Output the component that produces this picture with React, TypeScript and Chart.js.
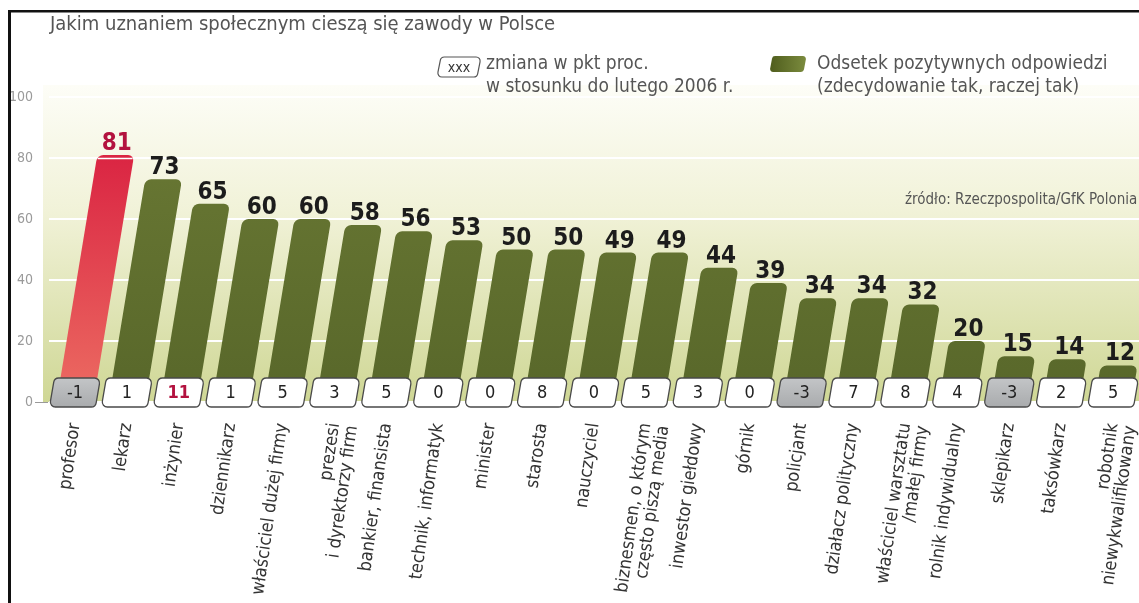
import React, { useEffect, useRef } from 'react';
import { Chart, registerables } from 'chart.js';

Chart.register(...registerables);

const categories: (string | string[])[] = [
  'profesor',
  'lekarz',
  'inżynier',
  'dziennikarz',
  'właściciel dużej firmy',
  ['prezesi', 'i dyrektorzy firm'],
  'bankier, finansista',
  'technik, informatyk',
  'minister',
  'starosta',
  'nauczyciel',
  ['biznesmen, o którym', 'często piszą media'],
  'inwestor giełdowy',
  'górnik',
  'policjant',
  'działacz polityczny',
  ['właściciel warsztatu', '/małej firmy'],
  'rolnik indywidualny',
  'sklepikarz',
  'taksówkarz',
  ['robotnik', 'niewykwalifikowany'],
];

const values: number[] = [81, 73, 65, 60, 60, 58, 56, 53, 50, 50, 49, 49, 44, 39, 34, 34, 32, 20, 15, 14, 12];

const changes: number[] = [-1, 1, 11, 1, 5, 3, 5, 0, 0, 8, 0, 5, 3, 0, -3, 7, 8, 4, -3, 2, 5];

const yTicks: number[] = [0, 20, 40, 60, 80, 100];

const TITLE = 'Jakim uznaniem społecznym cieszą się zawody w Polsce';
const LEGEND_CHANGE = ['zmiana w pkt proc.', 'w stosunku do lutego 2006 r.'];
const LEGEND_BARS = ['Odsetek pozytywnych odpowiedzi', '(zdecydowanie tak, raczej tak)'];
const SOURCE = 'źródło: Rzeczpospolita/GfK Polonia';

const HIGHLIGHT_BAR = 0;
const HIGHLIGHT_CHANGE = 2;

const NARROW = "'Liberation Sans Narrow', 'DejaVu Sans Condensed', 'Arial Narrow', sans-serif";
const SKEW = 0.165;

function slantPath(ctx: CanvasRenderingContext2D, pts: number[][], r: number) {
  const n = pts.length;
  ctx.beginPath();
  ctx.moveTo((pts[0][0] + pts[1][0]) / 2, (pts[0][1] + pts[1][1]) / 2);
  for (let k = 1; k <= n; k++) {
    const p = pts[k % n];
    const q = pts[(k + 1) % n];
    ctx.arcTo(p[0], p[1], q[0], q[1], r);
  }
  ctx.closePath();
}

function box(ctx: CanvasRenderingContext2D, cx: number, top: number, bottom: number, halfW: number, slant: number, r: number) {
  slantPath(
    ctx,
    [
      [cx - halfW + slant, top],
      [cx + halfW + slant, top],
      [cx + halfW - slant, bottom],
      [cx - halfW - slant, bottom],
    ],
    r
  );
}

const decorPlugin = {
  id: 'decor',
  beforeDraw(chart: any) {
    const { ctx, chartArea } = chart;
    ctx.save();
    ctx.fillStyle = '#ffffff';
    ctx.fillRect(0, 0, chart.width, chart.height);
    const top = chartArea.top - 12;
    const g = ctx.createLinearGradient(0, top, 0, chartArea.bottom);
    g.addColorStop(0, '#fdfdf7');
    g.addColorStop(0.4, '#f1f2d8');
    g.addColorStop(1, '#cfd795');
    ctx.fillStyle = g;
    ctx.fillRect(chartArea.left - 6, top, chartArea.right - chartArea.left + 6, chartArea.bottom - top);
    ctx.restore();
  },
  beforeDatasetsDraw(chart: any) {
    const { ctx, scales } = chart;
    const y0 = scales.y.getPixelForValue(0);
    ctx.save();
    ctx.transform(1, 0, -SKEW, 1, SKEW * y0, 0);
  },
  afterDatasetsDraw(chart: any) {
    const { ctx, scales } = chart;
    ctx.restore();
    const y0 = scales.y.getPixelForValue(0);
    const meta = chart.getDatasetMeta(0);

    // white cap line on highlighted bar
    const hb = meta.data[HIGHLIGHT_BAR];
    if (hb) {
      const yy = hb.y + 3.5;
      const sh = SKEW * (y0 - yy);
      ctx.save();
      ctx.strokeStyle = '#ffffff';
      ctx.lineWidth = 1.5;
      ctx.beginPath();
      ctx.moveTo(hb.x - hb.width / 2 + sh + 1, yy);
      ctx.lineTo(hb.x + hb.width / 2 + sh - 1, yy);
      ctx.stroke();
      ctx.restore();
    }

    // value labels
    ctx.save();
    ctx.textAlign = 'center';
    ctx.textBaseline = 'alphabetic';
    ctx.font = `bold 24px ${NARROW}`;
    meta.data.forEach((el: any, i: number) => {
      const sh = SKEW * (y0 - el.y);
      ctx.fillStyle = i === HIGHLIGHT_BAR ? '#b3123f' : '#1c1c1c';
      ctx.fillText(String(values[i]), el.x + sh + 1, el.y - 5);
    });
    ctx.restore();

    // change boxes
    ctx.save();
    const top = y0 - 24;
    const bottom = y0 + 5;
    categories.forEach((_, i) => {
      const cx = scales.x.getPixelForValue(i);
      box(ctx, cx, top, bottom, 23, 2.5, 5);
      const neg = changes[i] < 0;
      if (neg) {
        const g = ctx.createLinearGradient(0, top, 0, bottom);
        g.addColorStop(0, '#c3c5c7');
        g.addColorStop(1, '#a9abad');
        ctx.fillStyle = g;
      } else {
        ctx.fillStyle = '#ffffff';
      }
      ctx.fill();
      ctx.strokeStyle = '#4a4a4a';
      ctx.lineWidth = 1.3;
      ctx.stroke();
      ctx.textAlign = 'center';
      ctx.textBaseline = 'middle';
      if (i === HIGHLIGHT_CHANGE) {
        ctx.font = `bold 18px ${NARROW}`;
        ctx.fillStyle = '#b3123f';
      } else {
        ctx.font = `18px ${NARROW}`;
        ctx.fillStyle = '#222222';
      }
      ctx.fillText(String(changes[i]), cx, (top + bottom) / 2 + 1);
    });
    // dash after "0"
    ctx.strokeStyle = '#9a9a9a';
    ctx.lineWidth = 1;
    ctx.beginPath();
    ctx.moveTo(chart.chartArea.left - 14, y0 + 0.5);
    ctx.lineTo(chart.chartArea.left - 1, y0 + 0.5);
    ctx.stroke();
    ctx.restore();
  },
  afterDraw(chart: any) {
    const { ctx } = chart;
    ctx.save();
    // frame
    ctx.fillStyle = '#111111';
    ctx.fillRect(8, 10, 3, chart.height - 10);
    ctx.fillRect(8, 10, chart.width - 8, 2.5);

    // title
    ctx.textAlign = 'left';
    ctx.textBaseline = 'middle';
    ctx.fillStyle = '#555555';
    ctx.font = `20px ${NARROW}`;
    ctx.fillText(TITLE, 50, 25);

    // legend: change box
    box(ctx, 459, 57, 77, 20, 2, 4);
    ctx.fillStyle = '#ffffff';
    ctx.fill();
    ctx.strokeStyle = '#555555';
    ctx.lineWidth = 1.2;
    ctx.stroke();
    ctx.fillStyle = '#333333';
    ctx.textAlign = 'center';
    ctx.font = `14px ${NARROW}`;
    ctx.fillText('xxx', 459, 68);
    ctx.textAlign = 'left';
    ctx.font = `19px ${NARROW}`;
    ctx.fillStyle = '#555555';
    ctx.fillText(LEGEND_CHANGE[0], 486, 64);
    ctx.fillText(LEGEND_CHANGE[1], 486, 87);

    // legend: bars swatch
    const sg = ctx.createLinearGradient(770, 0, 806, 0);
    sg.addColorStop(0, '#4f5d1d');
    sg.addColorStop(1, '#7b8b3e');
    box(ctx, 788, 56, 72, 17, 1.5, 3);
    ctx.fillStyle = sg;
    ctx.fill();
    ctx.fillStyle = '#555555';
    ctx.fillText(LEGEND_BARS[0], 817, 64);
    ctx.fillText(LEGEND_BARS[1], 817, 87);

    // source
    ctx.font = `15px ${NARROW}`;
    ctx.fillStyle = '#555555';
    ctx.fillText(SOURCE, 905, 200);
    ctx.restore();
  },
};

export default function App() {
  const canvasRef = useRef<HTMLCanvasElement | null>(null);

  useEffect(() => {
    const canvas = canvasRef.current;
    if (!canvas) return;
    const ctx = canvas.getContext('2d')!;

    const chart = new Chart(ctx, {
      type: 'bar',
      data: {
        labels: categories as any,
        datasets: [
          {
            data: values,
            backgroundColor: (c: any) => {
              const area = c.chart.chartArea;
              if (!area) return '#5f6d2b';
              const g = c.chart.ctx.createLinearGradient(0, area.top, 0, area.bottom);
              if (c.dataIndex === HIGHLIGHT_BAR) {
                g.addColorStop(0, '#d6143b');
                g.addColorStop(1, '#ec6c62');
              } else {
                g.addColorStop(0, '#6b7a35');
                g.addColorStop(1, '#58672a');
              }
              return g;
            },
            borderWidth: 0,
            borderRadius: 6,
            borderSkipped: 'start',
            barPercentage: 0.71,
            categoryPercentage: 1,
          },
        ],
      },
      options: {
        responsive: false,
        animation: false,
        devicePixelRatio: 1,
        events: [],
        layout: { padding: { top: 97, left: 0, right: 0, bottom: 0 } },
        plugins: {
          legend: { display: false },
          tooltip: { enabled: false },
          title: { display: false },
        },
        scales: {
          x: {
            offset: true,
            grid: { display: false },
            border: { display: false },
            ticks: {
              autoSkip: false,
              minRotation: 82,
              maxRotation: 82,
              padding: 12,
              color: '#333333',
              font: { family: NARROW, size: 18, lineHeight: 1.0 },
            },
            afterFit: (s: any) => {
              s.height = 201;
              s.paddingLeft = 0;
              s.paddingRight = 0;
            },
          },
          y: {
            min: 0,
            max: 100,
            afterBuildTicks: (s: any) => {
              s.ticks = yTicks.map((v) => ({ value: v }));
            },
            ticks: {
              color: '#9a9a9a',
              padding: 16,
              font: { family: NARROW, size: 14 },
            },
            grid: { color: '#ffffff', lineWidth: 2, drawTicks: false },
            border: { display: false },
            afterFit: (s: any) => {
              s.width = 49;
            },
          },
        },
      },
      plugins: [decorPlugin],
    });

    return () => chart.destroy();
  }, []);

  return (
    <div style={{ position: 'fixed', left: 0, top: 0, width: 1139, height: 603, overflow: 'hidden', background: '#fff' }}>
      <canvas ref={canvasRef} width={1139} height={603} style={{ display: 'block' }} />
    </div>
  );
}
